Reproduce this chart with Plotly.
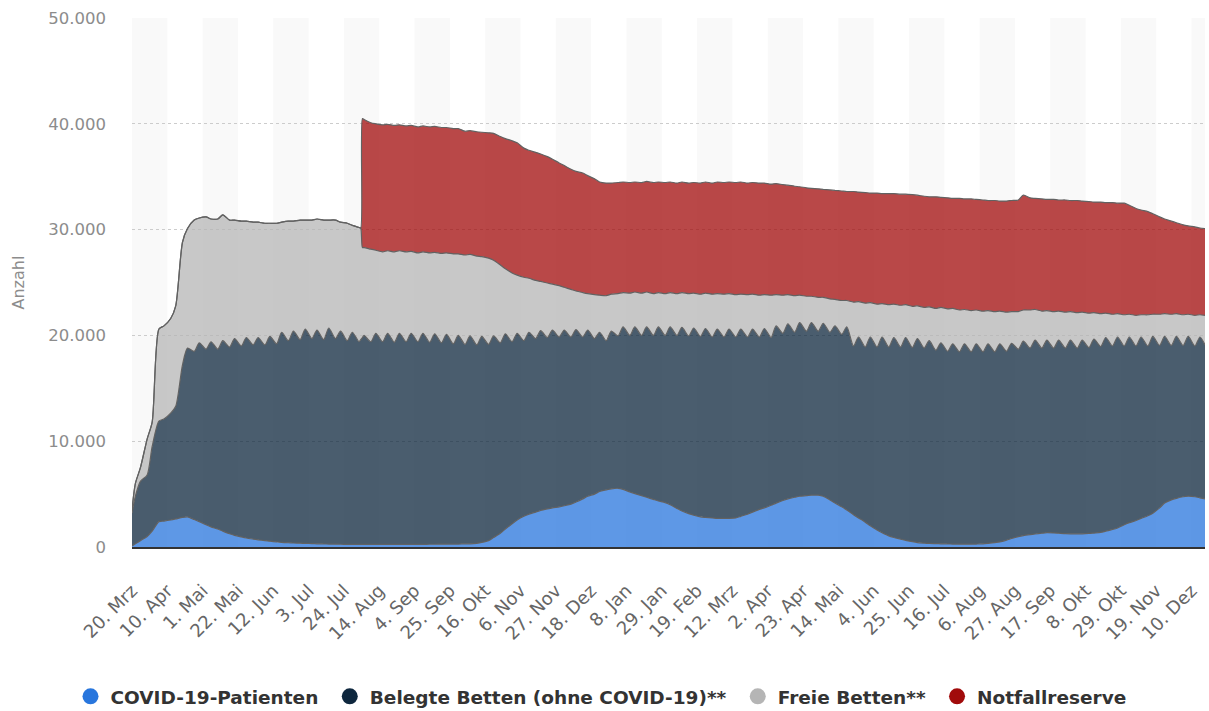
import pandas as pd
import plotly.graph_objects as go

# ---------------------------------------------------------------------------
# Data. Sampling calendar:
# first day (20.03.2020), then for every week a Sunday (trough) and a
# Wednesday (peak) value; two extra days (03./04.08.2020) mark the start of
# the emergency reserve; last day 18.12.2021.
# ---------------------------------------------------------------------------
start_day = pd.Timestamp("2020-03-20")
end_day = pd.Timestamp("2021-12-18")
sundays = pd.date_range("2020-03-22", periods=91, freq="7D")
wednesdays = pd.date_range("2020-03-25", periods=91, freq="7D")
extra_days = [pd.Timestamp("2020-08-03"), pd.Timestamp("2020-08-04")]
dates = sorted([start_day, end_day] + list(sundays) + list(wednesdays) + extra_days)

covid_patienten = [
    100,
    300, 600, 1000, 1500, 2400, 2450, 2550, 2650, 2800, 2850,
    2600, 2400, 2100, 1900, 1700, 1500, 1250, 1100, 950, 850,
    750, 680, 600, 550, 480, 430, 400, 380, 360, 340,
    320, 300, 290, 280, 270, 260, 250, 250,
    250, 250, 250, 250,
    250, 250, 250, 250, 250, 250, 250, 250, 250, 250,
    260, 260, 270, 270, 280, 280, 300, 300, 350, 430,
    600, 900, 1300, 1700, 2200, 2550, 2900, 3100, 3300, 3450,
    3600, 3700, 3800, 3900, 4050, 4250, 4550, 4800, 5000, 5250,
    5400, 5500, 5550, 5450, 5200, 5050, 4850, 4700, 4500, 4350,
    4200, 4000, 3650, 3400, 3150, 3000, 2850, 2800, 2750, 2700,
    2700, 2700, 2750, 2900, 3100, 3300, 3550, 3700, 3950, 4150,
    4400, 4550, 4700, 4800, 4850, 4900, 4900, 4800, 4450, 4150,
    3800, 3500, 3050, 2750, 2350, 2000, 1600, 1350, 1050, 900,
    740, 620, 500, 420, 370, 340, 320, 300, 290, 280,
    270, 270, 270, 280, 300, 340, 410, 480, 650, 800,
    980, 1080, 1170, 1230, 1300, 1350, 1330, 1300, 1260, 1250,
    1250, 1250, 1280, 1320, 1380, 1500, 1650, 1800, 2100, 2300,
    2500, 2700, 2950, 3200, 3700, 4150, 4450, 4600, 4750, 4800,
    4750, 4650,
    4550,
]

belegte_betten = [
    3100,
    4500, 5600, 5800, 8000, 9500, 9650, 10100, 10650, 14400, 15950,
    15900, 16900, 16600, 17500, 17000, 18000, 17650, 18600, 18050, 18950,
    18350, 19120, 18500, 19350, 18720, 19870, 19100, 20020, 19240, 20260,
    19380, 20200, 19310, 20420, 19430, 20140, 19250, 20050,
    19150, 19350, 19550, 19750,
    19150, 19950, 19150, 19950, 19100, 19950, 19150, 19950, 19150, 19950,
    19090, 19890, 19030, 19830, 18920, 19720, 18850, 19650, 18750, 19470,
    18550, 19050, 18000, 18450, 17200, 17650, 16600, 17200, 16400, 17000,
    16200, 16800, 16050, 16600, 15800, 16300, 15300, 15700, 14700, 15050,
    14100, 14900, 14400, 15350, 14800, 15750, 15150, 16100, 15500, 16450,
    15800, 16800, 16350, 17350, 16800, 17700, 17050, 17850, 17100, 17900,
    17150, 17900, 17100, 17700, 16750, 17300, 16300, 16950, 15850, 16750,
    15800, 16550, 15600, 16400, 15550, 16300, 15500, 16350, 15850, 16750,
    16300, 17300, 15950, 17100, 16550, 17850, 17300, 18500, 17850, 18900,
    18160, 19180, 18350, 19280, 18430, 19160, 18280, 19000, 18210, 18920,
    18180, 18930, 18180, 18920, 18150, 18860, 18040, 18720, 17850, 18450,
    17720, 18370, 17630, 18320, 17500, 18200, 17470, 18250, 17540, 18300,
    17550, 18300, 17570, 18330, 17570, 18300, 17350, 18050, 16900, 17550,
    16500, 17150, 16050, 16700, 15350, 15750, 14600, 15300, 14300, 15100,
    14250, 15200,
    14550,
]

freie_betten = [
    300,
    1200, 1300, 3400, 2300, 8700, 8800, 8950, 9500, 11600, 11300,
    12400, 11800, 12500, 11600, 12300, 11900, 12000, 11200, 11800, 11000,
    11600, 10900, 11500, 10700, 11400, 10400, 11300, 10400, 11300, 10300,
    11200, 10500, 11300, 10200, 11200, 10300, 11100, 10100,
    10800, 10550, 8500, 8300,
    8750, 7850, 8500, 7800, 8550, 7800, 8500, 7750, 8400, 7700,
    8450, 7700, 8450, 7700, 8500, 7700, 8450, 7700, 8400, 7550,
    8150, 7150, 7350, 6150, 6500, 5500, 6000, 5100, 5500, 4650,
    5150, 4350, 4850, 4050, 4500, 3650, 4200, 3450, 4150, 3500,
    4250, 3500, 4000, 3250, 4000, 3300, 4000, 3300, 3950, 3250,
    3950, 3250, 3950, 3300, 4000, 3300, 4000, 3350, 4050, 3350,
    4050, 3350, 4000, 3300, 4000, 3300, 3950, 3200, 4000, 2950,
    3600, 2750, 3450, 2600, 3300, 2500, 3200, 2450, 3150, 2500,
    3200, 2500, 4150, 3350, 4150, 3250, 4050, 3150, 4000, 3150,
    3950, 3100, 3900, 3100, 3850, 3200, 3950, 3350, 4000, 3350,
    3950, 3250, 3900, 3200, 3850, 3150, 3800, 3100, 3700, 3000,
    3550, 2950, 3600, 2900, 3500, 2800, 3450, 2750, 3400, 2700,
    3350, 2650, 3250, 2500, 3100, 2300, 3000, 2200, 2950, 2150,
    2900, 2100, 2950, 2100, 2950, 2150, 2950, 2150, 2900, 2100,
    2900, 2100,
    2800,
]

notfallreserve = [
    0,
    0, 0, 0, 0, 0, 0, 0, 0, 0, 0,
    0, 0, 0, 0, 0, 0, 0, 0, 0, 0,
    0, 0, 0, 0, 0, 0, 0, 0, 0, 0,
    0, 0, 0, 0, 0, 0, 0, 0,
    0, 0, 12200, 12100,
    11950, 11950, 12000, 11950, 11950, 11900, 11900, 11900, 11900, 11900,
    11900, 11900, 11900, 11850, 11850, 11850, 11700, 11700, 11750, 11750,
    11850, 12000, 12150, 12300, 12500, 12500, 12200, 12100, 12100, 12050,
    11950, 11800, 11600, 11500, 11350, 11300, 11300, 11150, 10950, 10700,
    10650, 10500, 10500, 10450, 10450, 10400, 10450, 10450, 10500, 10450,
    10500, 10450, 10450, 10450, 10450, 10450, 10500, 10500, 10500, 10550,
    10550, 10550, 10600, 10600, 10550, 10550, 10600, 10550, 10500, 10500,
    10450, 10350, 10350, 10250, 10250, 10200, 10250, 10200, 10300, 10300,
    10350, 10300, 10450, 10350, 10450, 10350, 10500, 10400, 10500, 10450,
    10500, 10450, 10550, 10450, 10500, 10400, 10550, 10400, 10500, 10400,
    10550, 10450, 10550, 10450, 10500, 10400, 10500, 10400, 10500, 10500,
    10550, 10850, 10600, 10500, 10600, 10500, 10600, 10500, 10600, 10500,
    10600, 10500, 10550, 10450, 10550, 10450, 10550, 10450, 10550, 10300,
    10100, 9900, 9750, 9500, 9200, 8950, 8800, 8600, 8500, 8350,
    8350, 8200,
    8200,
]

tick_dates = pd.date_range("2020-03-20", periods=31, freq="21D")
tick_labels = [
    "20. Mrz", "10. Apr", "1. Mai", "22. Mai", "12. Jun", "3. Jul", "24. Jul",
    "14. Aug", "4. Sep", "25. Sep", "16. Okt", "6. Nov", "27. Nov", "18. Dez",
    "8. Jan", "29. Jan", "19. Feb", "12. Mrz", "2. Apr", "23. Apr", "14. Mai",
    "4. Jun", "25. Jun", "16. Jul", "6. Aug", "27. Aug", "17. Sep", "8. Okt",
    "29. Okt", "19. Nov", "10. Dez",
]
y_ticks = [0, 10000, 20000, 30000, 40000, 50000]

series_names = ["COVID-19-Patienten", "Belegte Betten (ohne COVID-19)**",
                "Freie Betten**", "Notfallreserve"]
series_values = [covid_patienten, belegte_betten, freie_betten, notfallreserve]
series_colors = ["rgb(40,118,221)", "rgb(14,39,62)", "rgb(181,181,181)", "rgb(161,11,11)"]
series_fills = ["rgba(40,118,221,0.75)", "rgba(14,39,62,0.75)",
                "rgba(181,181,181,0.75)", "rgba(161,11,11,0.75)"]

for v in series_values:
    assert len(v) == len(dates), (len(v), len(dates))

fig = go.Figure()
for name, vals, fillc in zip(series_names, series_values, series_fills):
    fig.add_trace(go.Scatter(
        x=dates, y=vals, name=name, mode="lines", stackgroup="betten",
        line=dict(color="#626262", width=1.2, shape="spline", smoothing=0.7),
        fillcolor=fillc,
        showlegend=False, hovertemplate="%{y:,d}<extra>" + name + "</extra>",
    ))
# legend entries with round symbols
for name, col in zip(series_names, series_colors):
    fig.add_trace(go.Scatter(
        x=[None], y=[None], name=name + "\u00a0", mode="markers",
        marker=dict(color=col, size=16, symbol="circle"), showlegend=True,
    ))

# alternating vertical bands (every second tick interval)
band_edges = list(tick_dates) + [end_day]
shapes = []
for i in range(0, len(band_edges) - 1, 2):
    shapes.append(dict(type="rect", xref="x", yref="paper",
                       x0=band_edges[i], x1=band_edges[i + 1], y0=0, y1=1,
                       fillcolor="#f9f9f9", line=dict(width=0), layer="below"))

fig.update_layout(
    width=1209, height=711,
    margin=dict(l=132, r=4, t=18, b=164),
    paper_bgcolor="white", plot_bgcolor="white",
    separators=",.",
    shapes=shapes,
    hovermode="x",
    legend=dict(orientation="h", xref="container", yref="container",
                x=0.5, xanchor="center", y=0.02, yanchor="middle",
                traceorder="normal",
                font=dict(family="DejaVu Sans", size=18.5, color="#333333", weight="bold")),
    xaxis=dict(type="date", range=[start_day, end_day],
               tickvals=list(tick_dates), ticktext=tick_labels, tickangle=-45,
               tickfont=dict(family="DejaVu Sans", size=18, color="#666666"),
               ticklabelstandoff=24,
               showgrid=False, zeroline=False, ticks="",
               showline=True, linecolor="#333333", linewidth=2),
    yaxis=dict(range=[0, 50000], tickvals=y_ticks, tickformat=",d",
               showgrid=True, gridcolor="#cccccc", griddash="dot", gridwidth=1,
               zeroline=False, showline=False, ticks="",
               ticklabelstandoff=25,
               tickfont=dict(family="DejaVu Sans", size=16.5, color="#8c8c8c")),
    annotations=[dict(text="Anzahl", xref="paper", yref="paper",
                      x=(18 - 132) / 1073, y=0.5, xanchor="center", yanchor="middle",
                      textangle=-90, showarrow=False,
                      font=dict(family="DejaVu Sans", size=16, color="#8c8c8c"))],
)

fig.write_html("out.html", config={"displayModeBar": False},
               post_script="document.body.style.margin='0';document.body.style.overflow='hidden';")
